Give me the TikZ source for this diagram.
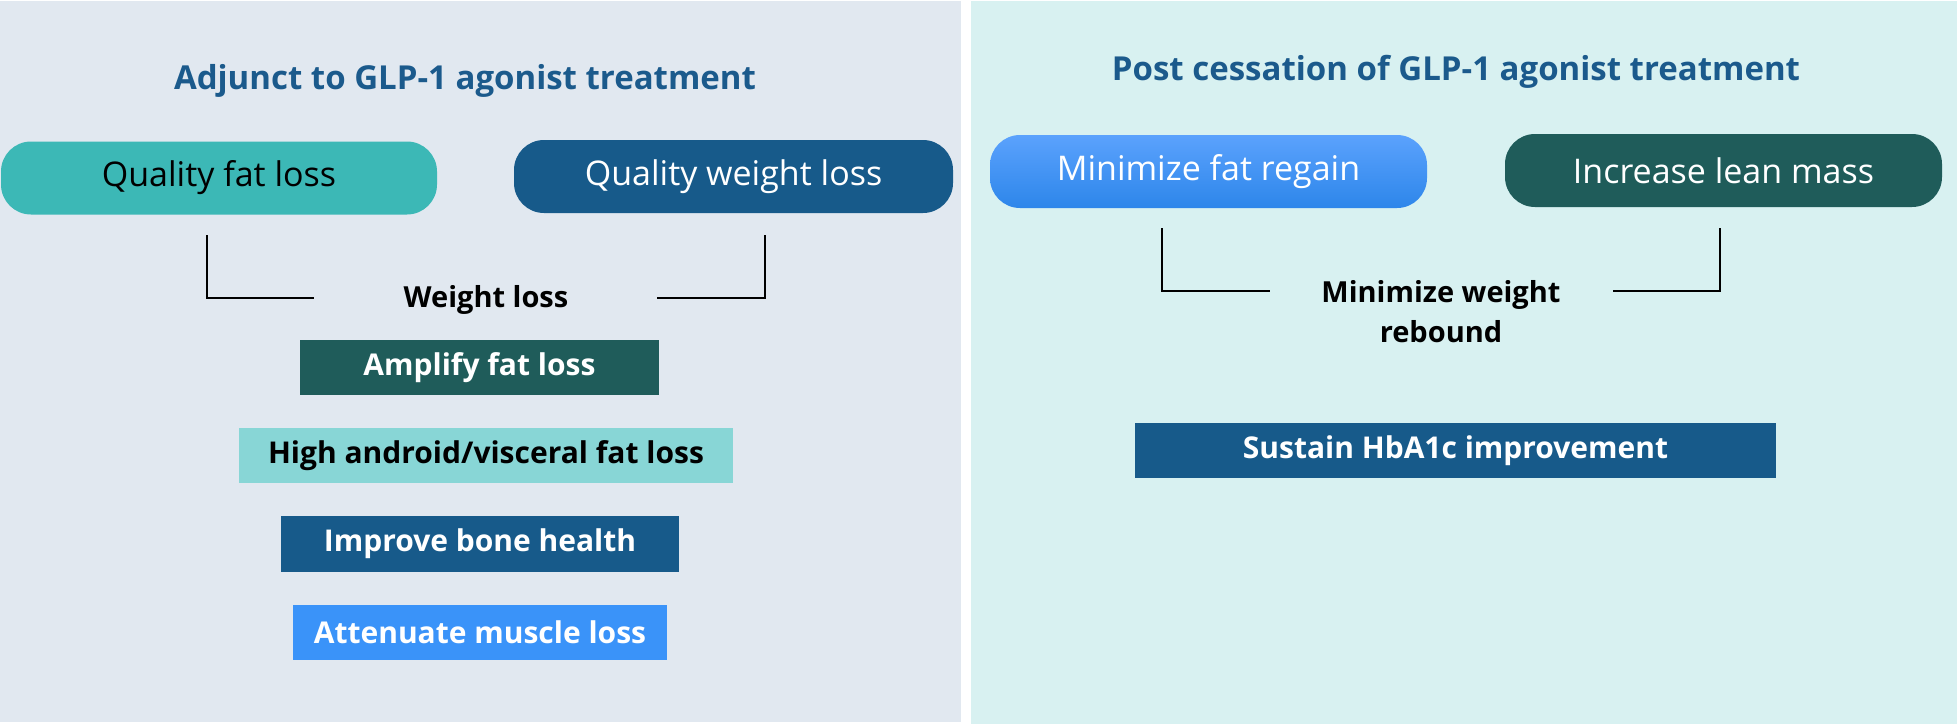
\documentclass[tikz,border=0pt]{standalone}
\usepackage{fontspec}
\setmainfont{Open Sans}
\definecolor{leftbg}{HTML}{E1E8F0}
\definecolor{rightbg}{HTML}{D8F1F1}
\definecolor{titleblue}{HTML}{1B5A8C}
\definecolor{tealpill}{HTML}{3CB8B6}
\definecolor{darkblue}{HTML}{175A8A}
\definecolor{darkgreen}{HTML}{1F5C5A}
\definecolor{lightteal}{HTML}{88D6D6}
\definecolor{brightblue}{HTML}{3A93F9}
\definecolor{gradtop}{HTML}{5BA2FD}
\definecolor{gradbot}{HTML}{2D86EA}
\tikzset{
  titletext/.style={font=\fontsize{33}{38}\selectfont\bfseries, text=titleblue, inner sep=0pt, anchor=base},
  pill/.style={rounded corners=30pt, inner sep=0pt, minimum height=73pt, font=\fontsize{34}{40}\selectfont},
  boxnode/.style={inner sep=0pt, minimum height=55pt, font=\fontsize{30}{35}\selectfont\bfseries},
  midtext/.style={inner sep=0pt, align=center, font=\fontsize{29}{40}\selectfont\bfseries, text=black, anchor=base},
  elbow/.style={draw=black, line width=2pt}
}
\begin{document}
\begin{tikzpicture}[x=1pt,y=-1pt]
\useasboundingbox (0,0) rectangle (1957,724);
\fill[white] (0,0) rectangle (1957,724);
\fill[leftbg] (0,1) rectangle (961,722);
\fill[rightbg] (971,1) rectangle (1957,724);

% titles
\node[titletext] (tl) at (465,89) {Adjunct to GLP-1 agonist treatment};
\node[titletext] (tr) at (1456,80) {Post cessation of GLP-1 agonist treatment};

% left pills
\node[pill, fill=tealpill, text=black, minimum width=436pt] (qfl) at (219,178) {Quality fat loss};
\node[pill, fill=darkblue, text=white, minimum width=439pt] (qwl) at (733.5,176.5) {Quality weight loss};

% right pills
\node[pill, top color=gradtop, bottom color=gradbot, text=white, minimum width=437pt] (mfr) at (1208.5,171.5) {Minimize fat regain};
\node[pill, fill=darkgreen, text=white, minimum width=437pt] (ilm) at (1723.5,170.5) {Increase lean mass};

% middle texts
\node[midtext] (wl) at (486,307) {Weight loss};
\node[midtext] (mwr) at (1441,342) {Minimize weight\\rebound};

% left boxes
\node[boxnode, fill=darkgreen, text=white, minimum width=359pt] (amp) at (479.5,367.5) {Amplify fat loss};
\node[boxnode, fill=lightteal, text=black, minimum width=494pt] (high) at (486,455.5) {High android/visceral fat loss};
\node[boxnode, fill=darkblue, text=white, minimum width=398pt, minimum height=56pt] (bone) at (480,544) {Improve bone health};
\node[boxnode, fill=brightblue, text=white, minimum width=374pt] (att) at (480,632.5) {Attenuate muscle loss};

% right box
\node[boxnode, fill=darkblue, text=white, minimum width=641pt] (sus) at (1455.5,450.5) {Sustain HbA1c improvement};

% connector coordinates
\coordinate (l1a) at (207,235);
\coordinate (l1b) at (314,298);
\coordinate (l2a) at (765,235);
\coordinate (l2b) at (657,298);
\coordinate (r1a) at (1162,228);
\coordinate (r1b) at (1270,291);
\coordinate (r2a) at (1720,228);
\coordinate (r2b) at (1613,291);

\draw[elbow] (l1a) |- (l1b);
\draw[elbow] (l2a) |- (l2b);
\draw[elbow] (r1a) |- (r1b);
\draw[elbow] (r2a) |- (r2b);
\end{tikzpicture}
\end{document}
